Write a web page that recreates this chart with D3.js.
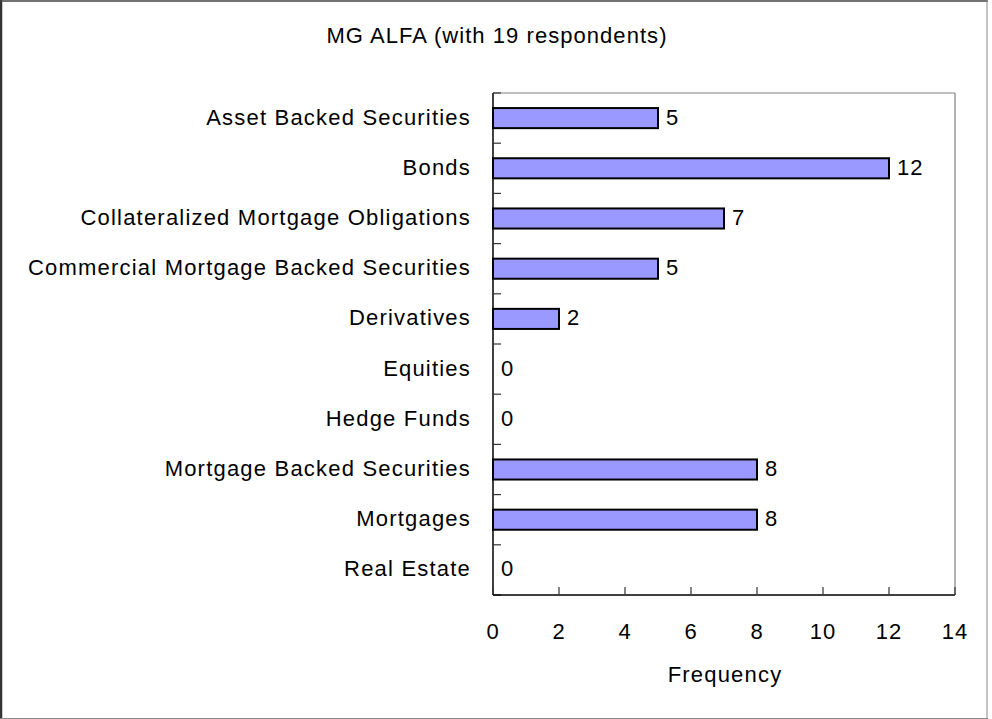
<!DOCTYPE html>
<html><head><meta charset="utf-8">
<script src="https://cdn.jsdelivr.net/npm/d3@7"></script>
<style>
html,body{margin:0;padding:0;background:#fff;}
svg text{font-family:"Liberation Sans",Arial,sans-serif;fill:#000;}
</style></head>
<body>
<svg id="chart" width="992" height="719"></svg>
<script>
const title = "MG ALFA (with 19 respondents)";
const categories = ["Asset Backed Securities","Bonds","Collateralized Mortgage Obligations","Commercial Mortgage Backed Securities","Derivatives","Equities","Hedge Funds","Mortgage Backed Securities","Mortgages","Real Estate"];
const values = [5,12,7,5,2,0,0,8,8,0];
const xTicks = [0,2,4,6,8,10,12,14];
const xLabel = "Frequency";

const svg = d3.select("#chart");
const W = 992, H = 719;
const plot = {left:493, right:955, top:93, bottom:595};

// outer frame
svg.append("line").attr("x1",1).attr("y1",0).attr("x2",1).attr("y2",H).attr("stroke","#333").attr("stroke-width",2.5);
svg.append("line").attr("x1",0).attr("y1",1).attr("x2",988).attr("y2",1).attr("stroke","#444").attr("stroke-width",1.5);
svg.append("line").attr("x1",987).attr("y1",0).attr("x2",987).attr("y2",719).attr("stroke","#888").attr("stroke-width",1);
svg.append("line").attr("x1",0).attr("y1",718.5).attr("x2",988).attr("y2",718.5).attr("stroke","#888").attr("stroke-width",1);

const x = d3.scaleLinear().domain([0,14]).range([plot.left, plot.right]);
const y = d3.scaleBand().domain(categories).range([plot.top, plot.bottom]).padding(0);
const barH = y.bandwidth()*0.4;

// plot border top/right gray
svg.append("line").attr("x1",plot.left).attr("y1",plot.top).attr("x2",plot.right).attr("y2",plot.top).attr("stroke","#808080").attr("stroke-width",1.2);
svg.append("line").attr("x1",plot.right).attr("y1",plot.top).attr("x2",plot.right).attr("y2",plot.bottom).attr("stroke","#808080").attr("stroke-width",1.2);

// bars
svg.selectAll("rect.bar").data(values.map((v,i)=>({v,c:categories[i]})).filter(d=>d.v>0))
  .enter().append("rect").attr("class","bar")
  .attr("x", x(0))
  .attr("y", d=>y(d.c)+y.bandwidth()/2-barH/2)
  .attr("width", d=>x(d.v)-x(0))
  .attr("height", barH)
  .attr("fill","#9999FF").attr("stroke","#000").attr("stroke-width",2);

// value labels
svg.selectAll("text.val").data(values.map((v,i)=>({v,c:categories[i]})))
  .enter().append("text").attr("class","val")
  .attr("x", d=>x(d.v)+8)
  .attr("y", d=>y(d.c)+y.bandwidth()/2+6.5)
  .style("font-size","22px").style("letter-spacing","1px")
  .text(d=>d.v);

// y axis
const yBounds = d3.range(categories.length+1).map(i=>plot.top + i*y.step());
svg.append("line").attr("x1",plot.left).attr("y1",plot.top).attr("x2",plot.left).attr("y2",plot.bottom).attr("stroke","#000").attr("stroke-width",1.5);
svg.selectAll("line.ytick").data(yBounds).enter().append("line").attr("class","ytick")
  .attr("x1",plot.left).attr("x2",plot.left+8).attr("y1",d=>d).attr("y2",d=>d)
  .attr("stroke","#333").attr("stroke-width",1.2);
svg.selectAll("text.cat").data(categories).enter().append("text").attr("class","cat")
  .attr("x",471).attr("y",d=>y(d)+y.bandwidth()/2+6.5)
  .attr("text-anchor","end").style("font-size","22px").style("letter-spacing","1.2px")
  .text(d=>d);

// x axis
svg.append("line").attr("x1",plot.left).attr("y1",plot.bottom).attr("x2",plot.right).attr("y2",plot.bottom).attr("stroke","#000").attr("stroke-width",1.5);
svg.selectAll("line.xtick").data(xTicks).enter().append("line").attr("class","xtick")
  .attr("x1",d=>x(d)).attr("x2",d=>x(d)).attr("y1",plot.bottom).attr("y2",plot.bottom-8)
  .attr("stroke","#333").attr("stroke-width",1.2);
svg.selectAll("text.xt").data(xTicks).enter().append("text").attr("class","xt")
  .attr("x",d=>x(d)).attr("y",639).attr("text-anchor","middle").style("font-size","22px").style("letter-spacing","1px")
  .text(d=>d);

svg.append("text").attr("x",725).attr("y",682).attr("text-anchor","middle").style("font-size","22px").style("letter-spacing","1.2px").text(xLabel);
svg.append("text").attr("x",497).attr("y",43).attr("text-anchor","middle").style("font-size","22px").style("letter-spacing","1.05px").text(title);
</script>
</body></html>
